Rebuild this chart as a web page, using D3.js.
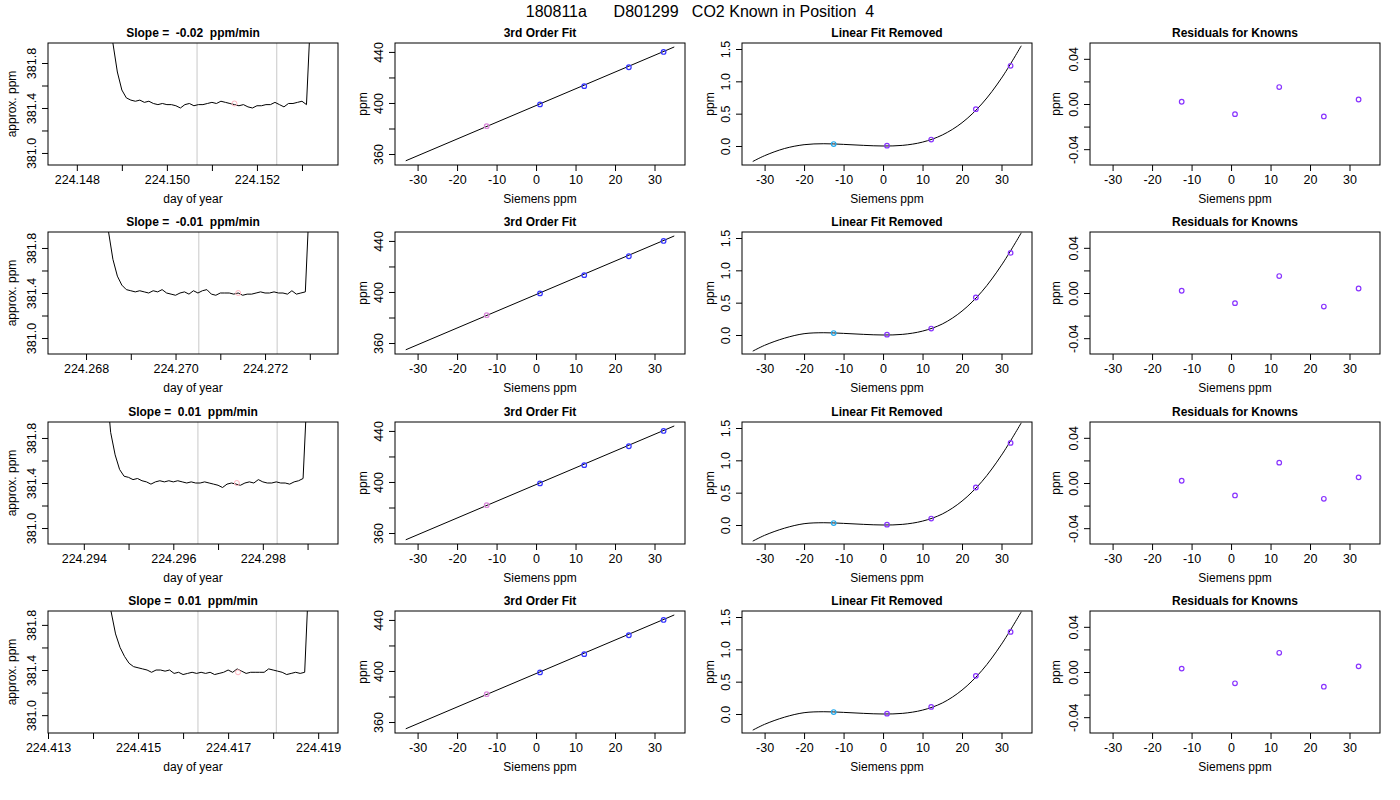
<!DOCTYPE html>
<html>
<head>
<meta charset="utf-8">
<script src="https://cdn.jsdelivr.net/npm/d3@7"></script>
<style>
  body { margin: 0; background: #fff; }
  text { font-family: "Liberation Sans", Arial, sans-serif; white-space: pre; }
</style>
</head>
<body>
<svg id="chart" width="1400" height="800"></svg>
<script>
// ---- data ----
const mainTitle = "180811a      D801299   CO2 Known in Position  4";
const slopeTitles = ["Slope =  -0.02  ppm/min", "Slope =  -0.01  ppm/min", "Slope =  0.01  ppm/min", "Slope =  0.01  ppm/min"];

// trace: start time, sample step (day), values (ppm)
const traceStart = [224.1487, 224.2684, 224.2945, 224.4143];
const traceStep = 0.0001;
const traceRow1 = [382.3, 381.98, 381.72, 381.56, 381.49, 381.47, 381.46, 381.47, 381.45, 381.46, 381.44, 381.43, 381.44, 381.43, 381.43, 381.42, 381.40, 381.43, 381.44, 381.42, 381.43, 381.43, 381.44, 381.45, 381.44, 381.46, 381.45, 381.44, 381.43, 381.42, 381.43, 381.41, 381.40, 381.42, 381.42, 381.43, 381.43, 381.45, 381.43, 381.41, 381.44, 381.44, 381.45, 381.46, 381.43, 382.3];
const traceRow2 = [382.3, 381.95, 381.70, 381.55, 381.47, 381.43, 381.42, 381.41, 381.42, 381.41, 381.40, 381.42, 381.41, 381.43, 381.40, 381.39, 381.38, 381.40, 381.41, 381.39, 381.42, 381.40, 381.42, 381.43, 381.39, 381.38, 381.40, 381.40, 381.40, 381.39, 381.40, 381.38, 381.39, 381.39, 381.40, 381.41, 381.40, 381.40, 381.41, 381.40, 381.40, 381.39, 381.42, 381.39, 381.40, 381.41, 382.3];
const traceRow3 = [382.3, 381.85, 381.65, 381.52, 381.46, 381.45, 381.43, 381.44, 381.42, 381.41, 381.39, 381.41, 381.42, 381.41, 381.42, 381.41, 381.42, 381.41, 381.40, 381.41, 381.40, 381.40, 381.41, 381.40, 381.39, 381.38, 381.36, 381.39, 381.40, 381.39, 381.38, 381.40, 381.41, 381.40, 381.43, 381.41, 381.40, 381.40, 381.41, 381.40, 381.40, 381.39, 381.41, 381.42, 381.44, 382.3];
const traceRow4 = [382.3, 381.92, 381.72, 381.60, 381.52, 381.46, 381.43, 381.42, 381.41, 381.40, 381.38, 381.40, 381.40, 381.39, 381.40, 381.37, 381.38, 381.36, 381.37, 381.38, 381.37, 381.38, 381.37, 381.38, 381.36, 381.37, 381.38, 381.40, 381.38, 381.41, 381.39, 381.37, 381.38, 381.38, 381.38, 381.38, 381.41, 381.40, 381.39, 381.38, 381.36, 381.37, 381.38, 381.37, 381.38, 382.3];
const traces = [traceRow1, traceRow2, traceRow3, traceRow4];

const timeDomains = [[224.14736, 224.1538], [224.26715, 224.27363], [224.2932, 224.29968], [224.413, 224.41944]];
const timeTicks = [
  [224.148, 224.149, 224.150, 224.151, 224.152, 224.153],
  [224.268, 224.269, 224.270, 224.271, 224.272, 224.273],
  [224.294, 224.295, 224.296, 224.297, 224.298, 224.299],
  [224.413, 224.414, 224.415, 224.416, 224.417, 224.418, 224.419]
];
const ppmDomains = [[380.893, 381.978], [380.858, 381.942], [380.858, 381.942], [380.842, 381.923]];
const windowLines = [[224.15067, 224.15244], [224.27052, 224.27227], [224.29655, 224.29832], [224.41633, 224.41807]];
const meanMark = [[224.1515, 381.44], [224.2714, 381.40], [224.29742, 381.40], [224.41722, 381.38]];

// standards
const siemens = [-12.5, 1.0, 12.2, 23.5, 32.3];
const measuredRows = [
  [381.8, 398.9, 413.2, 428.0, 440.0],
  [381.8, 398.9, 413.2, 428.0, 440.0],
  [381.8, 398.9, 413.2, 428.0, 440.0],
  [381.8, 398.9, 413.2, 428.0, 440.0]
];
const fitLineX = [-33, 35];
const fitLineY = [354.7, 443.9];

const curveX = [-33, -30, -25, -20, -15, -10, -5, 0, 5, 10, 15, 20, 25, 30, 35];
const curveRows = [
  [-0.24, -0.15, -0.04, 0.02, 0.035, 0.025, 0.01, 0.0, 0.01, 0.06, 0.17, 0.36, 0.65, 1.05, 1.55],
  [-0.25, -0.16, -0.05, 0.02, 0.035, 0.025, 0.01, 0.0, 0.01, 0.06, 0.17, 0.37, 0.67, 1.08, 1.58],
  [-0.25, -0.16, -0.05, 0.02, 0.035, 0.025, 0.01, 0.0, 0.01, 0.06, 0.17, 0.37, 0.67, 1.08, 1.58],
  [-0.25, -0.16, -0.05, 0.02, 0.035, 0.025, 0.01, 0.0, 0.01, 0.06, 0.17, 0.37, 0.67, 1.08, 1.58]
];
const nonlinRows = [
  [0.03, 0.005, 0.10, 0.57, 1.24],
  [0.03, 0.005, 0.10, 0.58, 1.27],
  [0.03, 0.005, 0.10, 0.58, 1.27],
  [0.03, 0.005, 0.11, 0.59, 1.27]
];
const residualRows = [
  [0.002, -0.009, 0.015, -0.011, 0.004],
  [0.002, -0.009, 0.015, -0.012, 0.004],
  [0.002, -0.011, 0.018, -0.014, 0.005],
  [0.003, -0.010, 0.017, -0.013, 0.005]
];

const siemensDomain = [-35.72, 37.72];
const siemensTicks = [-30, -20, -10, 0, 10, 20, 30];

// ---- layout ----
const colLeft = [48, 395, 742, 1090];
const colWidth = 290;
const rowTop = [43, 232, 422, 611];
const rowHeight = 122;
const svg = d3.select("#chart");
const font = "Liberation Sans, Arial, sans-serif";

svg.append("text").attr("x", 700).attr("y", 17).attr("text-anchor", "middle")
  .attr("xml:space", "preserve").attr("font-size", 16).text(mainTitle);

let clipId = 0;
function panel(col, row, xDomain, yDomain, opts) {
  const x0 = colLeft[col], y0 = rowTop[row];
  const g = svg.append("g").attr("transform", `translate(${x0},${y0})`);
  const x = d3.scaleLinear().domain(xDomain).range([0, colWidth]);
  const y = d3.scaleLinear().domain(yDomain).range([rowHeight, 0]);
  const id = "clip" + (clipId++);
  g.append("clipPath").attr("id", id).append("rect").attr("width", colWidth).attr("height", rowHeight);
  const plot = g.append("g").attr("clip-path", `url(#${id})`);

  // x axis
  const xa = g.append("g").attr("transform", `translate(0,${rowHeight})`)
    .call(d3.axisBottom(x).tickValues(opts.xTicks).tickSize(6).tickPadding(4)
      .tickFormat((d, i) => opts.xFormat(d, i)));
  // y axis
  const ya = g.append("g")
    .call(d3.axisLeft(y).tickValues(opts.yTicks).tickSize(6).tickPadding(4)
      .tickFormat((d, i) => opts.yFormat(d, i)));
  [xa, ya].forEach(a => {
    a.select(".domain").remove();
    a.selectAll("line").attr("stroke", "#000");
    a.selectAll("text").attr("font-size", 12.5).attr("font-family", font).attr("fill", "#000");
  });
  ya.selectAll("text").attr("transform", "rotate(-90)").attr("text-anchor", "middle")
    .attr("x", 0).attr("dy", 0).attr("y", -12);

  g.append("rect").attr("width", colWidth).attr("height", rowHeight)
    .attr("fill", "none").attr("stroke", "#000").attr("stroke-width", 1);

  g.append("text").attr("x", colWidth / 2).attr("y", -6).attr("text-anchor", "middle")
    .attr("xml:space", "preserve")
    .attr("font-size", 12).attr("font-weight", "bold").text(opts.title);
  g.append("text").attr("x", colWidth / 2).attr("y", rowHeight + 38).attr("text-anchor", "middle")
    .attr("font-size", 12).text(opts.xLabel);
  g.append("text").attr("transform", `translate(${-opts.yLabelOffset},${rowHeight / 2}) rotate(-90)`)
    .attr("text-anchor", "middle").attr("font-size", 12).text(opts.yLabel);
  return { plot, x, y };
}

const everyOther = (d, i) => i % 2 === 0;
for (let r = 0; r < 4; r++) {
  // column 1: trace
  const p1 = panel(0, r, timeDomains[r], ppmDomains[r], {
    xTicks: timeTicks[r], xFormat: (d, i) => everyOther(d, i) ? d.toFixed(3) : "",
    yTicks: [381.0, 381.2, 381.4, 381.6, 381.8], yFormat: (d, i) => everyOther(d, i) ? d.toFixed(1) : "",
    title: slopeTitles[r], xLabel: "day of year", yLabel: "approx. ppm", yLabelOffset: 32
  });
  windowLines[r].forEach(t => p1.plot.append("line")
    .attr("x1", p1.x(t)).attr("x2", p1.x(t)).attr("y1", 0).attr("y2", rowHeight)
    .attr("stroke", "#c8c8c8").attr("stroke-width", 1));
  const pts = traces[r].map((v, i) => [traceStart[r] + i * traceStep, v]);
  p1.plot.append("path").datum(pts)
    .attr("d", d3.line().x(d => p1.x(d[0])).y(d => p1.y(d[1])))
    .attr("fill", "none").attr("stroke", "#000").attr("stroke-width", 1);
  p1.plot.append("circle").attr("cx", p1.x(meanMark[r][0])).attr("cy", p1.y(meanMark[r][1]))
    .attr("r", 2.5).attr("fill", "none").attr("stroke", "#ffb6c1").attr("stroke-width", 1);

  // column 2: 3rd order fit
  const p2 = panel(1, r, siemensDomain, [351.4, 447], {
    xTicks: siemensTicks, xFormat: d => d,
    yTicks: [360, 380, 400, 420, 440], yFormat: (d, i) => everyOther(d, i) ? d : "",
    title: "3rd Order Fit", xLabel: "Siemens ppm", yLabel: "ppm", yLabelOffset: 28
  });
  p2.plot.append("line").attr("x1", p2.x(fitLineX[0])).attr("y1", p2.y(fitLineY[0]))
    .attr("x2", p2.x(fitLineX[1])).attr("y2", p2.y(fitLineY[1])).attr("stroke", "#000");
  siemens.forEach((s, i) => p2.plot.append("circle")
    .attr("cx", p2.x(s)).attr("cy", p2.y(measuredRows[r][i])).attr("r", 2.3).attr("fill", "none")
    .attr("stroke", i === 0 ? "#dd88dd" : "#3333ff").attr("stroke-width", 1.2));

  // column 3: linear fit removed
  const p3 = panel(2, r, siemensDomain, [-0.294, 1.593], {
    xTicks: siemensTicks, xFormat: d => d,
    yTicks: [0, 0.5, 1.0, 1.5], yFormat: d => d.toFixed(1),
    title: "Linear Fit Removed", xLabel: "Siemens ppm", yLabel: "ppm", yLabelOffset: 28
  });
  p3.plot.append("path").datum(curveX.map((cx, i) => [cx, curveRows[r][i]]))
    .attr("d", d3.line().x(d => p3.x(d[0])).y(d => p3.y(d[1])).curve(d3.curveCatmullRom))
    .attr("fill", "none").attr("stroke", "#000");
  siemens.forEach((s, i) => p3.plot.append("circle")
    .attr("cx", p3.x(s)).attr("cy", p3.y(nonlinRows[r][i])).attr("r", 2.3).attr("fill", "none")
    .attr("stroke", i === 0 ? "#22aaee" : "#8833ff").attr("stroke-width", 1.2));

  // column 4: residuals
  const p4 = panel(3, r, siemensDomain, [-0.054, 0.054], {
    xTicks: siemensTicks, xFormat: d => d,
    yTicks: [-0.04, -0.02, 0, 0.02, 0.04], yFormat: (d, i) => everyOther(d, i) ? d.toFixed(2) : "",
    title: "Residuals for Knowns", xLabel: "Siemens ppm", yLabel: "ppm", yLabelOffset: 30
  });
  siemens.forEach((s, i) => p4.plot.append("circle")
    .attr("cx", p4.x(s)).attr("cy", p4.y(residualRows[r][i])).attr("r", 2.3).attr("fill", "none")
    .attr("stroke", "#8833ff").attr("stroke-width", 1.2));
}
</script>
</body>
</html>
